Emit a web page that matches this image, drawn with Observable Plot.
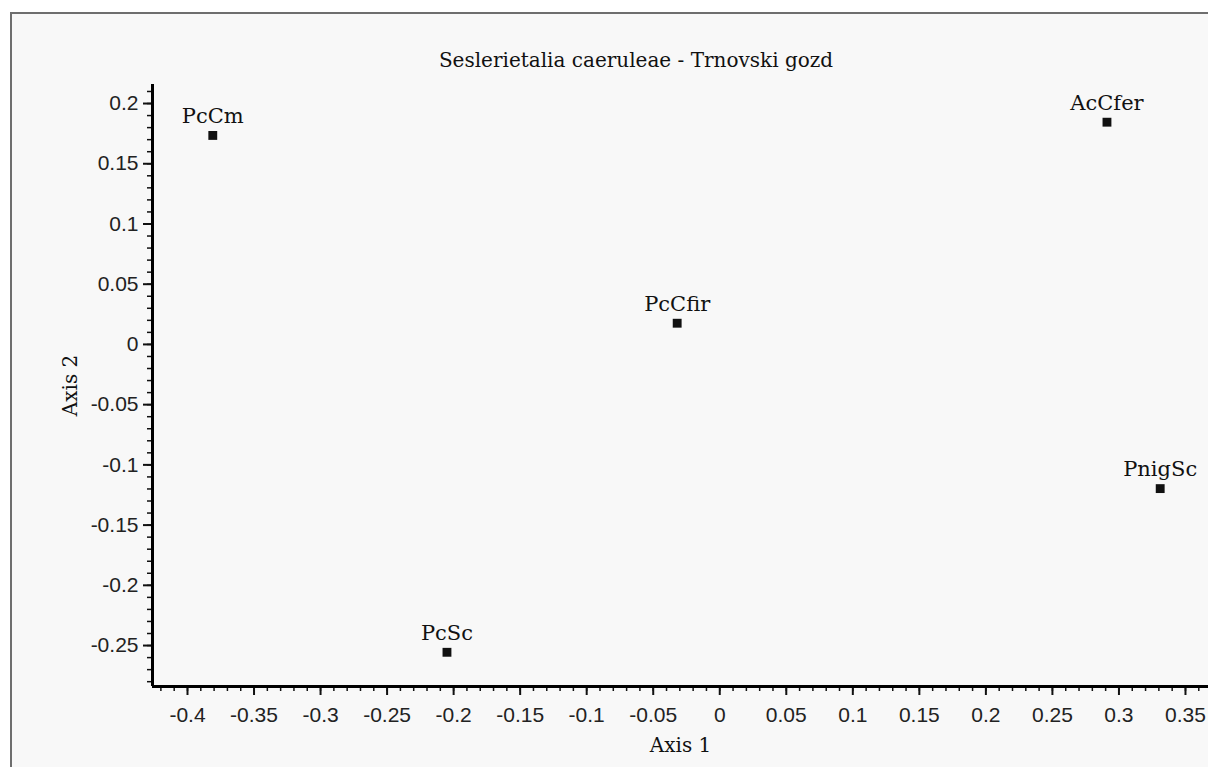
<!DOCTYPE html>
<html>
<head>
<meta charset="utf-8">
<script src="https://cdn.jsdelivr.net/npm/d3@7"></script>
<script src="https://cdn.jsdelivr.net/npm/@observablehq/plot@0.6"></script>
<style>
  html, body { margin: 0; padding: 0; background: #ffffff; }
  body { position: relative; width: 1208px; height: 767px; overflow: hidden; }
  #frame { position: absolute; left: 10px; top: 12px; width: 1198px; height: 755px;
           border-top: 2px solid #6e6e6e; border-left: 2px solid #6e6e6e;
           background: #f8f8f8; box-sizing: border-box; }
  #title { position: absolute; left: 0; top: 48px; width: 1272px; text-align: center;
           font-family: "DejaVu Serif", serif; font-size: 20px; line-height: 24px; color: #111; }
  #chart { position: absolute; left: 0; top: 70px; }
</style>
</head>
<body>
<div id="frame"></div>
<div id="title">Seslerietalia caeruleae - Trnovski gozd</div>
<div id="chart"></div>
<script>
const names = ["PcCm", "AcCfer", "PcCfir", "PnigSc", "PcSc"];
const axis1 = [-0.381, 0.291, -0.032, 0.331, -0.205];
const axis2 = [0.1735, 0.1845, 0.0176, -0.1197, -0.2556];
const xTicks = [-0.4, -0.35, -0.3, -0.25, -0.2, -0.15, -0.1, -0.05, 0, 0.05, 0.1, 0.15, 0.2, 0.25, 0.3, 0.35];
const yTicks = [0.2, 0.15, 0.1, 0.05, 0, -0.05, -0.1, -0.15, -0.2, -0.25];
const xLabel = "Axis 1";
const yLabel = "Axis 2";

const xDomain = [-0.4263, 0.3673];
const yDomain = [-0.284, 0.2158];
const minorX = d3.range(-42, 37).map(i => i / 100).filter(v => v >= xDomain[0] && v <= xDomain[1]);
const minorY = d3.range(-28, 22).map(i => i / 100).filter(v => v >= yDomain[0] && v <= yDomain[1]);

const data = names.map((n, i) => ({name: n, x: axis1[i], y: axis2[i]}));
const fmt = d => String(+(+d).toFixed(2));

const chart = Plot.plot({
  width: 1208,
  height: 697,
  marginLeft: 152,
  marginRight: 0,
  marginTop: 14,
  marginBottom: 81,
  style: {background: "transparent", overflow: "visible", fontFamily: "Liberation Sans", color: "#111"},
  x: {domain: xDomain, axis: null},
  y: {domain: yDomain, axis: null},
  marks: [
    Plot.axisX(minorX, {tickSize: 5, strokeWidth: 1.5, tickFormat: () => "", label: null}),
    Plot.axisY(minorY, {tickSize: 5, strokeWidth: 1.5, tickFormat: () => "", label: null}),
    Plot.axisX(xTicks, {tickSize: 9, tickPadding: 12, strokeWidth: 2, tickFormat: fmt, fontSize: 21, label: null, fill: "#222"}),
    Plot.axisY(yTicks, {tickSize: 9, tickPadding: 5, strokeWidth: 2, tickFormat: fmt, fontSize: 21, label: null, fill: "#222"}),
    Plot.ruleY([yDomain[0]], {stroke: "#000", strokeWidth: 3}),
    Plot.ruleX([xDomain[0]], {stroke: "#000", strokeWidth: 3}),
    Plot.dot(data, {x: "x", y: "y", symbol: "square", r: 5, fill: "#111", stroke: null}),
    Plot.text(data, {x: "x", y: "y", text: "name", dy: -19, fontSize: 21, fontFamily: "DejaVu Serif", fill: "#111"}),
    Plot.text([xLabel], {frameAnchor: "bottom", dy: 59, textAnchor: "middle", lineAnchor: "middle", fontSize: 20, fontFamily: "DejaVu Serif", fill: "#111"}),
    Plot.text([yLabel], {frameAnchor: "left", dx: -82, rotate: -90, textAnchor: "middle", lineAnchor: "middle", fontSize: 20, fontFamily: "DejaVu Serif", fill: "#111"})
  ]
});
document.getElementById("chart").appendChild(chart);
</script>
</body>
</html>
